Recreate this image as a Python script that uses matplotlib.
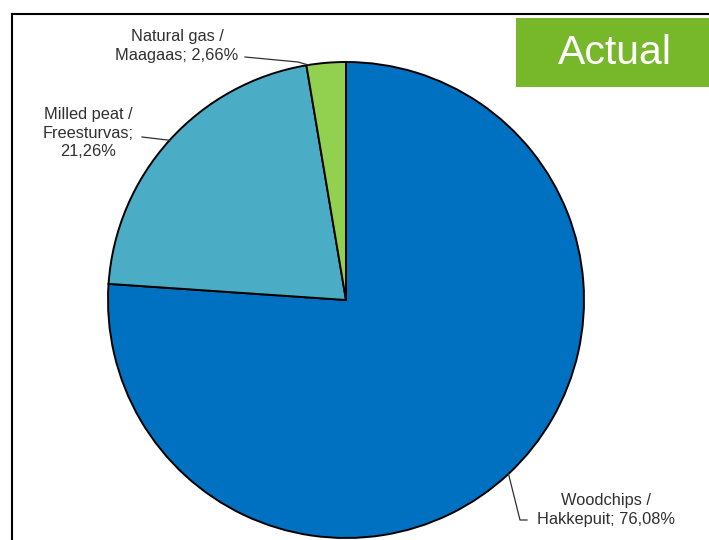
import numpy as np
import matplotlib
matplotlib.use('Agg')
import matplotlib.pyplot as plt
from matplotlib.patches import Rectangle

plt.rcParams['font.family'] = ['Liberation Sans', 'DejaVu Sans']

# fuel shares (%), clockwise from 12 o'clock
fuels_en = ['Woodchips', 'Milled peat', 'Natural gas']
fuels_et = ['Hakkepuit', 'Freesturvas', 'Maagaas']
shares = [76.08, 21.26, 2.66]
colors = ['#0070C0', '#4BACC6', '#92D050']
badge_text = 'Actual'


def pct(v):
    return f"{v:.2f}".replace('.', ',') + '%'


labels = [
    f"{fuels_en[0]} /\n{fuels_et[0]}; {pct(shares[0])}",
    f"{fuels_en[1]} /\n{fuels_et[1]};\n{pct(shares[1])}",
    f"{fuels_en[2]} /\n{fuels_et[2]}; {pct(shares[2])}",
]

W, H = 709, 540
fig = plt.figure(figsize=(W / 100, H / 100), dpi=100)
ax = fig.add_axes([0, 0, 1, 1])

cx, cy, r = 346, H - 300, 238
wedges, _ = ax.pie(shares, colors=colors, startangle=90, counterclock=False,
                   center=(cx, cy), radius=r, frame=True,
                   wedgeprops=dict(edgecolor='black', linewidth=1.4))
ax.set_xlim(0, W)
ax.set_ylim(0, H)
ax.axis('off')

# frame lines at top and left
ax.plot([12, W], [H - 14, H - 14], color='black', lw=1.5, clip_on=False)
ax.plot([12, 12], [H - 14, 0], color='black', lw=1.5, clip_on=False)

# green badge
ax.add_patch(Rectangle((516, H - 87), W - 516, 69, facecolor='#77B82A',
                       edgecolor='none'))
ax.text(615, H - 53, badge_text, color='white', fontsize=29.5,
        ha='center', va='center')


def edge_point(w, frac=0.5):
    ang = np.deg2rad(w.theta1 + frac * (w.theta2 - w.theta1))
    return cx + r * np.cos(ang), cy + r * np.sin(ang)


# label positions (text centre), leader start points, spot on the wedge arc
text_pos = [(606, H - 510), (88, H - 133), (177, H - 46)]
lead_start = [[(527, H - 520), (520, H - 520)],
              [(142, H - 137)],
              [(245, H - 57), (298, H - 62)]]
arc_frac = [0.5, 0.5, 0.95]

for w, lab, tp, ls, fr in zip(wedges, labels, text_pos, lead_start, arc_frac):
    ax.text(tp[0], tp[1], lab, fontsize=11.8, color='#303030', ha='center',
            va='center', linespacing=1.32)
    px, py = edge_point(w, fr)
    xs = [p[0] for p in ls] + [px]
    ys = [p[1] for p in ls] + [py]
    ax.plot(xs, ys, color='#303030', lw=0.9)

fig.savefig('out.png', dpi=100)
